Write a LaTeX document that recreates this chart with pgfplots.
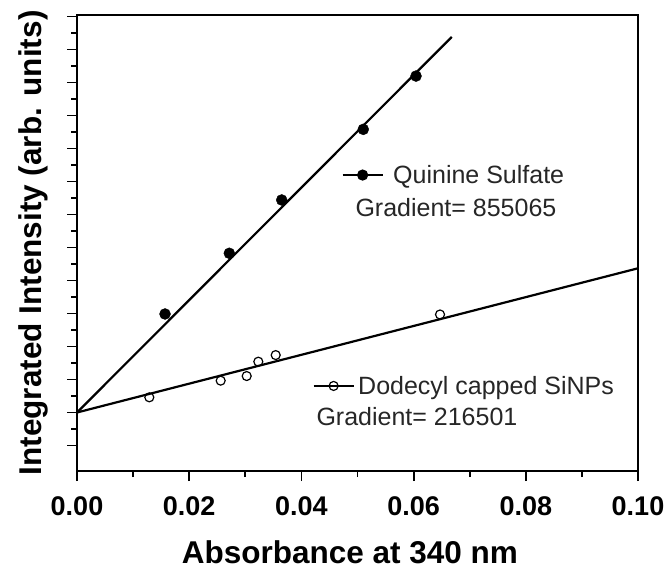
\documentclass[border=0pt]{standalone}
\usepackage{pgfplots}
\pgfplotsset{compat=1.18}
\usepackage{fontspec}
\setmainfont{Liberation Sans}
\tikzset{legfont/.style={font=\fontsize{25bp}{28bp}\selectfont, text=black!85}}
\pgfplotsset{
  legimg/.style={legend image code/.code={
    \draw[##1, mark repeat=2, mark phase=2] plot coordinates {(0bp,0bp)(20bp,0bp)(40bp,0bp)};}},
  common/.style={at={(0,0)}, anchor=south west,
    width=561bp, height=456bp, scale only axis,
    xmin=0, xmax=0.1, ymin=-3.545, ymax=24.09},
}
\begin{document}
\begin{tikzpicture}
\useasboundingbox (-77bp,-100bp) rectangle (594bp,471bp);
\begin{axis}[
  common,
  axis line style={line width=2bp},
  every tick/.style={black, line width=1.8bp},
  tick align=outside,
  xtick pos=bottom, ytick pos=left,
  xtick={0,0.02,0.04,0.06,0.08,0.1},
  xticklabels={0.00,0.02,0.04,0.06,0.08,0.10},
  minor x tick num=1,
  ytick={-2,0,...,24},
  yticklabels={},
  minor y tick num=1,
  major tick length=10bp, minor tick length=6bp,
  xticklabel style={font=\fontsize{27bp}{30bp}\selectfont\bfseries, anchor=base, yshift=-34bp},
  xlabel={Absorbance at 340 nm},
  ylabel={Integrated Intensity (arb. units)},
  label style={font=\fontsize{31.5bp}{34bp}\selectfont\bfseries},
  x label style={at={(axis description cs:0.4866,-0.2018)}, anchor=base},
  y label style={at={(axis description cs:-0.0624,0.5)}, anchor=base},
  legend style={at={(axis cs:0.04724,14.39)}, anchor=west, draw=none, fill=none,
    inner sep=0pt, outer sep=0pt, legfont, nodes={inner sep=0pt}, column sep=10bp},
]
\addlegendimage{black, line width=1.2bp, mark=*, mark size=5bp, legimg}
\addlegendentry{Quinine Sulfate}
\addplot[forget plot, only marks, mark=*, mark size=5.5bp, black] coordinates {
 (0.01569,5.97) (0.02715,9.65) (0.03649,12.88) (0.05103,17.16) (0.06043,20.39)};
\addplot[forget plot, only marks, mark=o, mark size=4.5bp, black, line width=1.2bp] coordinates {
 (0.01289,0.92) (0.02561,1.93) (0.03025,2.21) (0.03232,3.08) (0.03542,3.48) (0.06471,5.94)};
\addplot[forget plot, black, line width=2.2bp] coordinates {(0,0) (0.0668,22.76)};
\addplot[forget plot, black, line width=2.2bp] coordinates {(0,0) (0.1,8.74)};
\node[anchor=base west, legfont] at (axis cs:0.04902,11.85) {Gradient= 855065};
\node[anchor=base west, legfont] at (axis cs:0.04207,-0.76) {Gradient= 216501};
\end{axis}
\begin{axis}[
  common, hide axis,
  legend style={at={(axis cs:0.04207,1.61)}, anchor=west, draw=none, fill=none,
    inner sep=0pt, outer sep=0pt, legfont, nodes={inner sep=0pt}, column sep=4bp},
]
\addlegendimage{black, line width=1.2bp, mark=o, mark size=4.5bp, legimg}
\addlegendentry{Dodecyl capped SiNPs}
\end{axis}
\end{tikzpicture}
\end{document}
